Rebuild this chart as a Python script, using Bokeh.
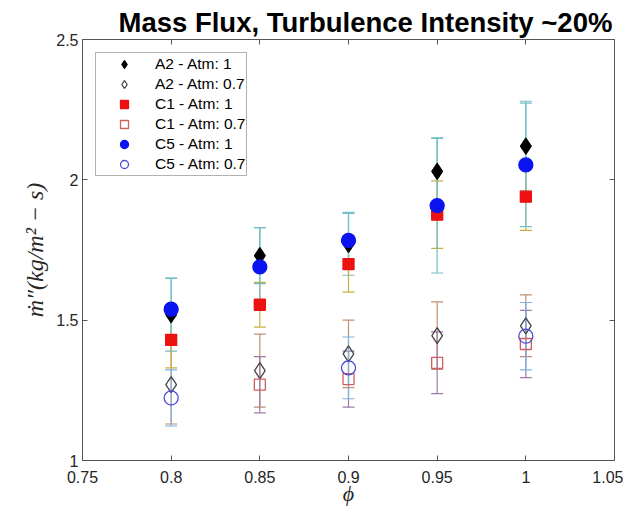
import math
from bokeh.plotting import figure
from bokeh.models import (ColumnDataSource, Whisker, TeeHead, FixedTicker, LinearAxis,
                          CustomJSTickFormatter, Range1d, Legend, LegendItem)
from bokeh.embed import file_html
from bokeh.resources import INLINE

NaN = float("nan")
phi = [0.8, 0.85, 0.9, 0.95, 1.0]

a2_atm1 = [1.52, 1.73, 1.77, 2.03, 2.12]
a2_atm1_err = [0.13, 0.10, 0.11, 0.12, 0.16]
a2_atm07 = [1.27, 1.32, 1.38, 1.445, 1.48]
a2_atm07_err = [0.14, 0.13, 0.12, 0.12, 0.11]
c1_atm1 = [1.43, 1.555, 1.70, 1.876, 1.94]
c1_atm1_err = [0.10, 0.08, 0.10, 0.12, 0.12]
c1_atm07 = [NaN, 1.27, 1.29, 1.348, 1.415]
c1_atm07_err = [0.11, 0.10, 0.10, 0.11, 0.12]
c5_atm1 = [1.539, 1.69, 1.784, 1.908, 2.053]
c5_atm1_err = [0.11, 0.14, 0.10, 0.24, 0.22]
c5_atm07 = [1.223, NaN, 1.33, NaN, 1.443]
c5_atm07_err = [0.10, 0.10, 0.11, 0.12, 0.12]

labels = ["A2 - Atm: 1", "A2 - Atm: 0.7", "C1 - Atm: 1", "C1 - Atm: 0.7",
          "C5 - Atm: 1", "C5 - Atm: 0.7"]
x_ticks = [0.75, 0.8, 0.85, 0.9, 0.95, 1.0, 1.05]
y_ticks = [1.0, 1.5, 2.0, 2.5]

values = [a2_atm1, a2_atm07, c1_atm1, c1_atm07, c5_atm1, c5_atm07]
errors = [a2_atm1_err, a2_atm07_err, c1_atm1_err, c1_atm07_err, c5_atm1_err, c5_atm07_err]
markers = ["diamond", "diamond", "square", "square", "circle", "circle"]
sizes = [16, 16, 11, 11, 14, 14]
fills = ["black", None, "#ee1111", None, "#0a14f0", None]
edges = ["black", "#444444", "#ee1111", "#d06060", "#0a14f0", "#4a4ad8"]
bar_colors = ["#7ab8c8", "#c09070", "#c8b040", "#a07aa8", "#70c0c8", "#80b0e0"]

p = figure(width=623, height=508, output_backend="svg", toolbar_location=None,
           x_range=Range1d(0.75, 1.05), y_range=Range1d(1.0, 2.5),
           min_border_left=82, min_border_right=9, min_border_top=39,
           min_border_bottom=48, background_fill_color="white",
           border_fill_color="white")
p.grid.visible = False
p.outline_line_color = "#555555"
p.outline_line_width = 1

p.title.text = "Mass Flux, Turbulence Intensity ~20%"
p.title.text_font = "Liberation Sans"
p.title.text_font_size = "27.5px"
p.title.text_font_style = "bold"
p.title.align = "left"
p.title.text_color = "black"
p.title.standoff = 3
p.title.offset = 36

fmt = CustomJSTickFormatter(code="return tick.toFixed(2).replace(/0+$/,'').replace(/\\.$/,'');")
xt = FixedTicker(ticks=x_ticks)
yt = FixedTicker(ticks=y_ticks)

for ax, tk in ((p.xaxis[0], xt), (p.yaxis[0], yt)):
    ax.ticker = tk
    ax.formatter = fmt
    ax.major_tick_in = 5
    ax.major_tick_out = 0
    ax.minor_tick_line_color = None
    ax.axis_line_color = "#555555"
    ax.major_tick_line_color = "#555555"
    ax.major_label_text_font = "Liberation Sans"
    ax.major_label_text_font_size = "16px"
    ax.major_label_text_color = "#262626"

p.xaxis.axis_label = "ϕ"
p.xaxis.axis_label_text_font = "Liberation Serif"
p.xaxis.axis_label_text_font_style = "italic"
p.xaxis.axis_label_text_font_size = "22px"
p.xaxis.axis_label_text_color = "#262626"
p.xaxis.major_label_standoff = 10
p.xaxis.axis_label_standoff = -5

p.yaxis.axis_label = "ṁ″(kg/m² − s)"
p.yaxis.axis_label_text_font = "Liberation Serif"
p.yaxis.axis_label_text_font_style = "italic"
p.yaxis.axis_label_text_font_size = "24px"
p.yaxis.axis_label_text_color = "#262626"
p.yaxis.major_label_standoff = 4

for loc, tk in (("above", xt), ("right", yt)):
    ax = LinearAxis(ticker=tk, major_tick_in=5, major_tick_out=0,
                    minor_tick_line_color=None, axis_line_color="#555555",
                    major_tick_line_color="#555555",
                    major_label_text_font_size="1px", major_label_standoff=0,
                    axis_label_standoff=0)
    ax.formatter = CustomJSTickFormatter(code="return '';")
    p.add_layout(ax, loc)

items = []
for lab, vals, errs, mk, sz, fc, ec, bc in zip(labels, values, errors, markers,
                                               sizes, fills, edges, bar_colors):
    up = [v + e if not math.isnan(v) else NaN for v, e in zip(vals, errs)]
    lo = [v - e if not math.isnan(v) else NaN for v, e in zip(vals, errs)]
    src = ColumnDataSource(dict(x=phi, y=vals, upper=up, lower=lo))
    w = Whisker(source=src, base="x", upper="upper", lower="lower",
                line_color=bc, line_width=1.2,
                upper_head=TeeHead(size=12, line_color=bc, line_width=1.2),
                lower_head=TeeHead(size=12, line_color=bc, line_width=1.2))
    p.add_layout(w)
    r = p.scatter("x", "y", source=src, marker=mk, size=sz,
                  fill_color=fc if fc else "white", fill_alpha=1 if fc else 0,
                  line_color=ec, line_width=1.3)
    items.append(LegendItem(label=lab, renderers=[r]))

leg = Legend(items=items, location="top_left")
leg.label_text_font = "Liberation Sans"
leg.label_text_font_size = "15.5px"
leg.label_text_color = "black"
leg.label_height = 20
leg.glyph_height = 20
leg.glyph_width = 54
leg.spacing = 0
leg.padding = 1
leg.margin = 13
leg.label_standoff = 4
leg.border_line_color = "#666666"
leg.border_line_width = 1
leg.background_fill_alpha = 1
p.add_layout(leg)

open("out.html", "w").write(file_html(p, INLINE))
